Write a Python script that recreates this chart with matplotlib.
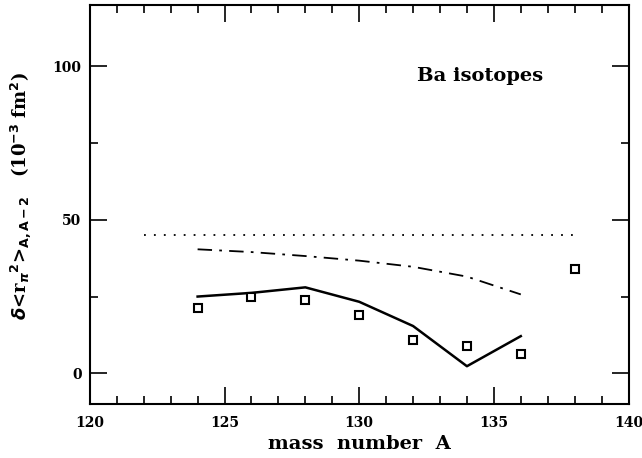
import matplotlib
matplotlib.use("Agg")
import matplotlib.pyplot as plt
import matplotlib.transforms as mtransforms
from matplotlib.ticker import MultipleLocator

mass_exp = [124, 126, 128, 130, 132, 134, 136, 138]
val_exp = [21.2, 24.9, 24.0, 19.0, 11.0, 8.9, 6.2, 34.0]

mass_calc = [124, 126, 128, 130, 132, 134, 136]
val_solid = [25.0, 26.2, 28.0, 23.3, 15.4, 2.3, 12.1]
val_dashdot = [40.4, 39.5, 38.2, 36.7, 34.7, 31.5, 25.7]

mass_dot = [122, 138]
val_dot = [45.0, 45.0]

plt.rcParams['font.family'] = ['DejaVu Serif']
plt.rcParams['font.weight'] = 'bold'

fig = plt.figure(figsize=(6.42, 4.58), dpi=100)
ax = fig.add_axes([0.140, 0.118, 0.839, 0.871])

ax.plot(mass_calc, val_solid, color='black', lw=1.8, ls='-')
ax.plot(mass_calc, val_dashdot, color='black', lw=1.3, ls=(0, (8, 4, 1.5, 4)))
ax.plot(mass_dot, val_dot, color='black', lw=1.3, ls=(0, (1, 4.5)))
ax.plot(mass_exp, val_exp, ls='none', marker='s', ms=6, mfc='white', mec='black', mew=1.5)

ax.set_xlim(120, 140)
ax.set_ylim(-10, 120)
ax.xaxis.set_major_locator(MultipleLocator(5))
ax.xaxis.set_minor_locator(MultipleLocator(1))
ax.yaxis.set_major_locator(MultipleLocator(50))
ax.yaxis.set_minor_locator(MultipleLocator(25))
ax.tick_params(which='both', direction='in', top=True, right=True, width=1.2, labelsize=10)
ax.tick_params(which='major', length=12)
ax.tick_params(which='minor', length=6)
for s in ax.spines.values():
    s.set_linewidth(1.5)
for lab in ax.get_xticklabels() + ax.get_yticklabels():
    lab.set_fontweight('bold')
ax.tick_params(axis='x', pad=9)
ax.tick_params(axis='y', pad=6)

fig.canvas.draw()
xl = ax.get_xticklabels()
last = xl[-1]
last.set_transform(last.get_transform() + mtransforms.ScaledTranslation(-5/100, 0, fig.dpi_scale_trans))

ax.set_xlabel('mass  number  A', fontsize=14, fontweight='bold', labelpad=3)
ax.set_ylabel(r'$\delta$<r$_\pi$$^2$>$_{\rm A,A-2}$   (10$^{-3}$ fm$^2$)', fontsize=13, fontweight='bold')
ax.yaxis.set_label_coords(-0.105, 0.52)
ax.text(134.5, 97, 'Ba isotopes', fontsize=14, fontweight='bold', ha='center', va='center')

fig.savefig('out.png', dpi=100)
